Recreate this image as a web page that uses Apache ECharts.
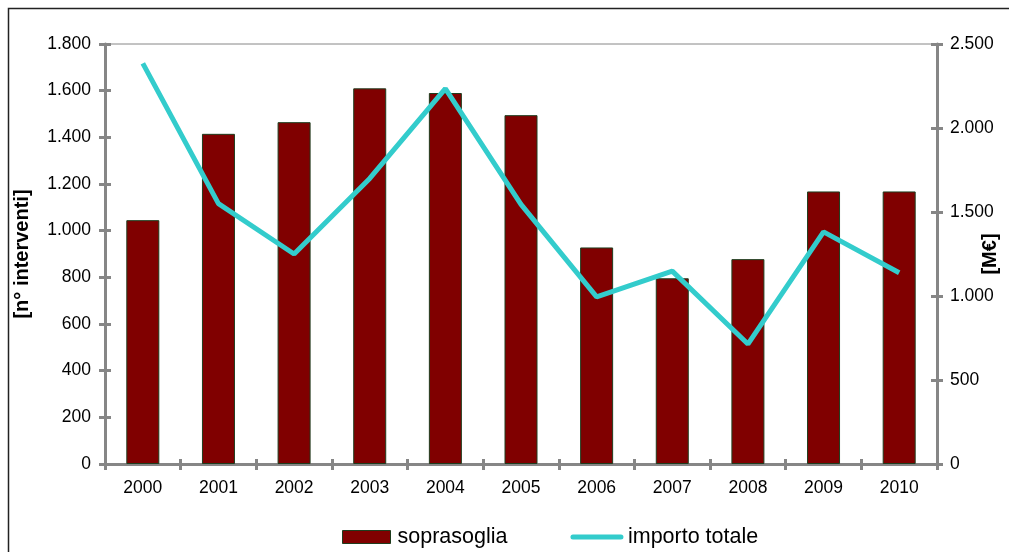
<!DOCTYPE html>
<html>
<head>
<meta charset="utf-8">
<script src="https://cdn.jsdelivr.net/npm/echarts@6/dist/echarts.min.js"></script>
<style>
html,body{margin:0;padding:0;background:#fff;}
#chart{width:1009px;height:552px;}
</style>
</head>
<body>
<div id="chart"></div>
<script>
const categories = ['2000','2001','2002','2003','2004','2005','2006','2007','2008','2009','2010'];
const soprasoglia = [1045, 1415, 1465, 1610, 1590, 1495, 928, 796, 878, 1168, 1168];
const importoTotale = [2385, 1550, 1250, 1700, 2235, 1545, 995, 1148, 714, 1382, 1138];
const leftTicks = {min: 0, max: 1800, interval: 200};
const rightTicks = {min: 0, max: 2500, interval: 500};

const fmt = v => String(v).replace(/\B(?=(\d{3})+(?!\d))/g, '.');
const FONT = '"Liberation Sans", Arial, sans-serif';
const GRAY = '#868686';

const chart = echarts.init(document.getElementById('chart'), null, {renderer: 'canvas'});
chart.setOption({
  animation: false,
  backgroundColor: '#fff',
  textStyle: {fontFamily: FONT},
  graphic: [{
    type: 'rect', z: 100, silent: true,
    shape: {x: 8.5, y: 8.5, width: 1010, height: 560},
    style: {fill: 'none', stroke: '#222', lineWidth: 1.5}
  }],
  grid: {left: 105, right: 72, top: 44, bottom: 88, show: true, borderColor: GRAY, borderWidth: 1,
         backgroundColor: 'transparent', containLabel: false, outerBoundsMode: 'none'},
  legend: {
    left: 342, top: 526, padding: 0, itemGap: 63, itemWidth: 48, itemHeight: 13,
    textStyle: {fontFamily: FONT, fontSize: 21.5, color: '#000', padding: [0,0,0,2]},
    data: [
      {name: 'soprasoglia', icon: 'rect', itemStyle: {color: '#800000', borderColor: '#1e3d1e', borderWidth: 1}},
      {name: 'importo totale', itemStyle: {opacity: 0}, lineStyle: {width: 5, color: '#33CCCC', cap: 'round'}}
    ]
  },
  xAxis: [{
    type: 'category', data: categories, boundaryGap: true,
    axisLine: {lineStyle: {color: GRAY, width: 3}},
    axisTick: {show: true, interval: 0, length: 6, lineStyle: {color: GRAY, width: 3}},
    axisLabel: {color: '#000', fontSize: 17.5, margin: 15, fontFamily: FONT}
  }, {
    type: 'category', data: categories, boundaryGap: true, position: 'bottom',
    axisLine: {show: false},
    axisTick: {show: true, inside: true, interval: 0, length: 5, lineStyle: {color: GRAY, width: 3}},
    axisLabel: {show: false}
  }],
  yAxis: [{
    type: 'value', position: 'left', min: leftTicks.min, max: leftTicks.max, interval: leftTicks.interval,
    name: '[n° interventi]', nameLocation: 'middle', nameGap: 73, nameRotate: 90, nameMoveOverlap: false,
    nameTextStyle: {fontFamily: FONT, fontSize: 20, fontWeight: 'bold', color: '#000'},
    axisLine: {show: true, lineStyle: {color: GRAY, width: 3}},
    axisTick: {show: true, length: 6, lineStyle: {color: GRAY, width: 3}},
    axisLabel: {color: '#000', fontSize: 17.5, margin: 14, formatter: fmt, fontFamily: FONT},
    splitLine: {show: false}
  }, {
    type: 'value', position: 'right', min: rightTicks.min, max: rightTicks.max, interval: rightTicks.interval,
    name: '[M€]', nameLocation: 'middle', nameGap: 43, nameRotate: 90, nameMoveOverlap: false,
    nameTextStyle: {fontFamily: FONT, fontSize: 20, fontWeight: 'bold', color: '#000'},
    axisLine: {show: true, lineStyle: {color: GRAY, width: 3}},
    axisTick: {show: true, length: 6, lineStyle: {color: GRAY, width: 3}},
    axisLabel: {color: '#000', fontSize: 17.5, margin: 13, formatter: fmt, fontFamily: FONT},
    splitLine: {show: false}
  }, {
    type: 'value', position: 'left', min: leftTicks.min, max: leftTicks.max, interval: leftTicks.interval,
    axisLine: {show: false},
    axisTick: {show: true, inside: true, length: 6, lineStyle: {color: GRAY, width: 3}},
    axisLabel: {show: false}, splitLine: {show: false}
  }, {
    type: 'value', position: 'right', min: rightTicks.min, max: rightTicks.max, interval: rightTicks.interval,
    axisLine: {show: false},
    axisTick: {show: true, inside: true, length: 6, lineStyle: {color: GRAY, width: 3}},
    axisLabel: {show: false}, splitLine: {show: false}
  }],
  series: [{
    name: 'soprasoglia', type: 'bar', data: soprasoglia, xAxisIndex: 0, yAxisIndex: 0,
    barWidth: 33,
    itemStyle: {color: '#800000', borderColor: '#1e3d1e', borderWidth: 1}
  }, {
    name: 'importo totale', type: 'line', data: importoTotale, xAxisIndex: 0, yAxisIndex: 1,
    symbol: 'none', showSymbol: false,
    lineStyle: {color: '#33CCCC', width: 5},
    itemStyle: {color: '#33CCCC'}
  }]
});
</script>
</body>
</html>
